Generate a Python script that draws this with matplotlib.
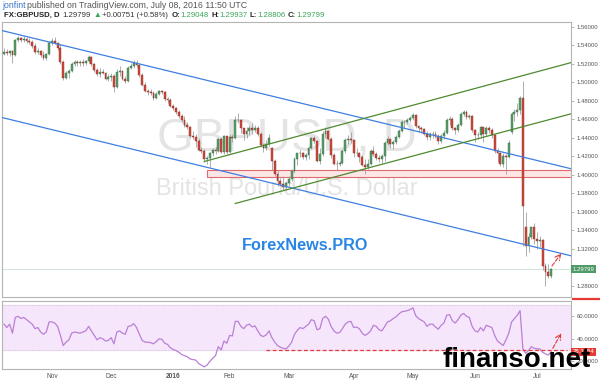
import matplotlib
matplotlib.use('Agg')
import matplotlib.pyplot as plt
from matplotlib.lines import Line2D
from matplotlib.patches import Rectangle
import matplotlib.transforms as mtransforms
import numpy as np
import pandas as pd

plt.rcParams['font.family'] = ['Liberation Sans', 'DejaVu Sans']

# daily bars, FX calendar (no bar on Christmas / New Year)
HOLIDAYS = ['2015-12-25', '2016-01-01']
DATES = pd.bdate_range('2015-10-08', '2016-07-08').drop(pd.to_datetime(HOLIDAYS))

OPEN = [
    1.5300, 1.5325, 1.5315, 1.5335, 1.5290, 1.5460, 1.5475, 1.5455, 1.5470, 1.5450,
    1.5440, 1.5390, 1.5325, 1.5340, 1.5290, 1.5265, 1.5300, 1.5425, 1.5450, 1.5425,
    1.5375, 1.5215, 1.5045, 1.5100, 1.5120, 1.5195, 1.5215, 1.5205, 1.5215, 1.5205,
    1.5225, 1.5275, 1.5195, 1.5130, 1.5085, 1.5110, 1.5100, 1.5040, 1.5060, 1.5070,
    1.4950, 1.5110, 1.5125, 1.5035, 1.5010, 1.5155, 1.5180, 1.5210, 1.5190, 1.5080,
    1.4975, 1.4905, 1.4895, 1.4885, 1.4830, 1.4870, 1.4905, 1.4895, 1.4815, 1.4805,
    1.4745, 1.4720, 1.4680, 1.4630, 1.4595, 1.4540, 1.4515, 1.4420, 1.4410, 1.4365,
    1.4265, 1.4255, 1.4165, 1.4180, 1.4230, 1.4265, 1.4260, 1.4385, 1.4245, 1.4415,
    1.4245, 1.4410, 1.4400, 1.4590, 1.4595, 1.4500, 1.4445, 1.4475, 1.4510, 1.4485,
    1.4505, 1.4440, 1.4320, 1.4290, 1.4330, 1.4285, 1.4145, 1.4010, 1.3935, 1.3905,
    1.3870, 1.3915, 1.3950, 1.4035, 1.4170, 1.4230, 1.4240, 1.4190, 1.4210, 1.4290,
    1.4395, 1.4360, 1.4150, 1.4220, 1.4445, 1.4470, 1.4385, 1.4210, 1.4120, 1.4115,
    1.4130, 1.4260, 1.4375, 1.4385, 1.4370, 1.4230, 1.4235, 1.4190, 1.4110, 1.4080,
    1.4120, 1.4260, 1.4225, 1.4185, 1.4165, 1.4200, 1.4345, 1.4385, 1.4330, 1.4350,
    1.4405, 1.4470, 1.4565, 1.4575, 1.4595, 1.4610, 1.4650, 1.4525, 1.4510, 1.4495,
    1.4445, 1.4410, 1.4435, 1.4440, 1.4420, 1.4365, 1.4420, 1.4450, 1.4590, 1.4600,
    1.4500, 1.4485, 1.4540, 1.4655, 1.4680, 1.4625, 1.4640, 1.4485, 1.4425, 1.4430,
    1.4515, 1.4440, 1.4505, 1.4485, 1.4430, 1.4260, 1.4240, 1.4120, 1.4200, 1.4195,
    1.4460, 1.4660, 1.4680, 1.4700, 1.4830, 1.3430, 1.3225, 1.3330, 1.3430, 1.3310,
    1.3280, 1.3290, 1.3015, 1.2950, 1.29048,
]
HIGH = [
    1.5365, 1.5360, 1.5350, 1.5345, 1.5470, 1.5505, 1.5490, 1.5495, 1.5490, 1.5480,
    1.5460, 1.5420, 1.5370, 1.5350, 1.5335, 1.5320, 1.5450, 1.5480, 1.5490, 1.5440,
    1.5410, 1.5240, 1.5120, 1.5140, 1.5215, 1.5235, 1.5245, 1.5235, 1.5250, 1.5240,
    1.5290, 1.5280, 1.5205, 1.5150, 1.5150, 1.5145, 1.5115, 1.5085, 1.5095, 1.5090,
    1.5140, 1.5170, 1.5135, 1.5065, 1.5170, 1.5210, 1.5240, 1.5235, 1.5200, 1.5100,
    1.5000, 1.4925, 1.4930, 1.4900, 1.4890, 1.4920, 1.4920, 1.4905, 1.4840, 1.4830,
    1.4760, 1.4730, 1.4700, 1.4660, 1.4630, 1.4570, 1.4530, 1.4470, 1.4435, 1.4400,
    1.4300, 1.4275, 1.4205, 1.4245, 1.4290, 1.4295, 1.4400, 1.4410, 1.4430, 1.4420,
    1.4435, 1.4445, 1.4640, 1.4665, 1.4605, 1.4510, 1.4520, 1.4535, 1.4555, 1.4535,
    1.4525, 1.4465, 1.4340, 1.4370, 1.4435, 1.4300, 1.4165, 1.4050, 1.3960, 1.3985,
    1.3930, 1.3990, 1.4060, 1.4190, 1.4240, 1.4270, 1.4250, 1.4235, 1.4310, 1.4410,
    1.4415, 1.4370, 1.4290, 1.4470, 1.4515, 1.4480, 1.4410, 1.4230, 1.4160, 1.4150,
    1.4280, 1.4400, 1.4425, 1.4460, 1.4385, 1.4290, 1.4250, 1.4210, 1.4165, 1.4165,
    1.4280, 1.4315, 1.4245, 1.4215, 1.4220, 1.4360, 1.4420, 1.4390, 1.4380, 1.4430,
    1.4490, 1.4590, 1.4590, 1.4615, 1.4640, 1.4670, 1.4660, 1.4540, 1.4530, 1.4505,
    1.4470, 1.4460, 1.4475, 1.4470, 1.4440, 1.4440, 1.4480, 1.4610, 1.4635, 1.4620,
    1.4520, 1.4555, 1.4680, 1.4700, 1.4695, 1.4655, 1.4650, 1.4495, 1.4460, 1.4525,
    1.4520, 1.4530, 1.4530, 1.4500, 1.4440, 1.4290, 1.4250, 1.4230, 1.4220, 1.4370,
    1.4680, 1.4710, 1.4770, 1.4850, 1.5015, 1.3600, 1.3370, 1.3440, 1.3480, 1.3380,
    1.3340, 1.3300, 1.3050, 1.3035, 1.29937,
]
LOW = [
    1.5290, 1.5290, 1.5285, 1.5210, 1.5280, 1.5440, 1.5430, 1.5440, 1.5420, 1.5410,
    1.5370, 1.5300, 1.5300, 1.5270, 1.5235, 1.5240, 1.5290, 1.5400, 1.5410, 1.5350,
    1.5200, 1.5020, 1.5030, 1.5050, 1.5110, 1.5180, 1.5180, 1.5170, 1.5180, 1.5190,
    1.5210, 1.5180, 1.5110, 1.5070, 1.5060, 1.5090, 1.5020, 1.5015, 1.5010, 1.4895,
    1.4940, 1.5070, 1.5020, 1.4990, 1.5000, 1.5140, 1.5150, 1.5160, 1.5060, 1.4960,
    1.4890, 1.4860, 1.4860, 1.4810, 1.4815, 1.4860, 1.4870, 1.4800, 1.4780, 1.4730,
    1.4700, 1.4660, 1.4610, 1.4565, 1.4520, 1.4490, 1.4400, 1.4390, 1.4300, 1.4255,
    1.4235, 1.4140, 1.4120, 1.4080, 1.4200, 1.4225, 1.4245, 1.4230, 1.4220, 1.4225,
    1.4230, 1.4350, 1.4385, 1.4560, 1.4455, 1.4380, 1.4395, 1.4430, 1.4440, 1.4460,
    1.4420, 1.4300, 1.4245, 1.4270, 1.4310, 1.4055, 1.3990, 1.3880, 1.3880, 1.3835,
    1.3835, 1.3880, 1.3930, 1.4020, 1.4110, 1.4190, 1.4165, 1.4160, 1.4170, 1.4275,
    1.4340, 1.4140, 1.4120, 1.4200, 1.4400, 1.4370, 1.4180, 1.4100, 1.4055, 1.4090,
    1.4120, 1.4235, 1.4330, 1.4340, 1.4195, 1.4200, 1.4140, 1.4090, 1.4005, 1.4060,
    1.4110, 1.4200, 1.4160, 1.4140, 1.4130, 1.4150, 1.4320, 1.4285, 1.4275, 1.4330,
    1.4395, 1.4460, 1.4510, 1.4550, 1.4575, 1.4590, 1.4500, 1.4460, 1.4455, 1.4430,
    1.4380, 1.4370, 1.4400, 1.4395, 1.4335, 1.4345, 1.4390, 1.4435, 1.4540, 1.4480,
    1.4445, 1.4460, 1.4525, 1.4630, 1.4600, 1.4600, 1.4460, 1.4350, 1.4385, 1.4400,
    1.4355, 1.4420, 1.4450, 1.4400, 1.4240, 1.4135, 1.4090, 1.4080, 1.4010, 1.4180,
    1.4440, 1.4585, 1.4630, 1.4660, 1.3230, 1.3120, 1.3160, 1.3300, 1.3250, 1.3200,
    1.3220, 1.2975, 1.2800, 1.2880, 1.28806,
]
CLOSE = [
    1.5325, 1.5315, 1.5335, 1.5290, 1.5460, 1.5475, 1.5455, 1.5470, 1.5450, 1.5440,
    1.5390, 1.5325, 1.5340, 1.5290, 1.5265, 1.5300, 1.5425, 1.5450, 1.5425, 1.5375,
    1.5215, 1.5045, 1.5100, 1.5120, 1.5195, 1.5215, 1.5205, 1.5215, 1.5205, 1.5225,
    1.5275, 1.5195, 1.5130, 1.5085, 1.5110, 1.5100, 1.5040, 1.5060, 1.5070, 1.4950,
    1.5110, 1.5125, 1.5035, 1.5010, 1.5155, 1.5180, 1.5210, 1.5190, 1.5080, 1.4975,
    1.4905, 1.4895, 1.4885, 1.4830, 1.4870, 1.4905, 1.4895, 1.4815, 1.4805, 1.4745,
    1.4720, 1.4680, 1.4630, 1.4595, 1.4540, 1.4515, 1.4420, 1.4410, 1.4365, 1.4265,
    1.4255, 1.4165, 1.4180, 1.4230, 1.4265, 1.4260, 1.4385, 1.4245, 1.4415, 1.4245,
    1.4410, 1.4400, 1.4590, 1.4595, 1.4500, 1.4445, 1.4475, 1.4510, 1.4485, 1.4505,
    1.4440, 1.4320, 1.4290, 1.4330, 1.4400, 1.4145, 1.4010, 1.3935, 1.3905, 1.3870,
    1.3915, 1.3950, 1.4035, 1.4170, 1.4230, 1.4240, 1.4190, 1.4210, 1.4290, 1.4395,
    1.4360, 1.4150, 1.4220, 1.4445, 1.4470, 1.4385, 1.4210, 1.4120, 1.4115, 1.4130,
    1.4260, 1.4375, 1.4385, 1.4370, 1.4230, 1.4235, 1.4190, 1.4110, 1.4080, 1.4120,
    1.4260, 1.4225, 1.4185, 1.4165, 1.4200, 1.4345, 1.4385, 1.4330, 1.4350, 1.4405,
    1.4470, 1.4565, 1.4575, 1.4595, 1.4610, 1.4650, 1.4525, 1.4510, 1.4495, 1.4445,
    1.4410, 1.4435, 1.4440, 1.4420, 1.4365, 1.4420, 1.4450, 1.4590, 1.4600, 1.4500,
    1.4485, 1.4540, 1.4655, 1.4680, 1.4625, 1.4640, 1.4485, 1.4425, 1.4430, 1.4515,
    1.4440, 1.4505, 1.4485, 1.4430, 1.4260, 1.4240, 1.4120, 1.4200, 1.4195, 1.4345,
    1.4660, 1.4680, 1.4700, 1.4830, 1.3665, 1.3225, 1.3330, 1.3430, 1.3310, 1.3280,
    1.3290, 1.3015, 1.2950, 1.2905, 1.29799,
]
RSI = [
    53, 50, 53, 45, 59, 60, 58, 59, 57, 55,
    53, 49, 50, 46, 44, 46, 55, 55, 54, 51,
    43, 34, 37, 39, 45, 46, 45.5, 45, 46, 47,
    51, 47, 43, 39, 41, 40, 38, 38.5, 41, 35.5,
    46, 47, 45, 44, 51, 51.5, 53.5, 50, 44, 38.5,
    37, 37, 36.5, 35.5, 37.5, 40, 39.5, 36, 35, 32,
    30.5, 29.5, 28, 26, 25, 24, 22, 21.5, 21, 18,
    16.5, 15, 16.5, 20, 22.5, 25, 33, 30, 38, 36,
    43, 42.5, 55.5, 55.5, 51, 49, 52, 53, 50.5, 51.5,
    47, 43, 42, 43.5, 47, 41, 37, 34, 32.5, 31.5,
    31, 33.5, 37, 44, 47.5, 50, 49, 51, 53, 57,
    56, 48, 49, 58, 60, 57.5, 51, 47, 45, 45.5,
    49, 53, 55, 55.5, 50, 50.5, 49, 45, 43, 44.5,
    47, 52, 51, 48, 47, 51, 55, 56, 58, 59.5,
    62, 64, 64.5, 65, 66, 67.5, 60.5, 58, 56.5, 55,
    51, 53, 53, 50.5, 48.5, 52, 54, 61, 61.5, 56,
    54, 57, 61, 62.5, 60, 59, 51, 47, 46, 50,
    47, 52, 51, 50, 43, 38, 36, 34, 39, 45,
    55, 58, 61, 65, 31, 27, 29.5, 33, 31.5, 31,
    31, 28, 26.5, 25.5, 28.5,
]
LAST_PRICE = '1.29799'
LAST_RSI = '28.3054'

# 1.30000 sits under the last-price tag, so it has no label
PRICE_TICKS = np.arange(1.28, 1.5601, 0.02)
HIDDEN_PRICE_TICK = 1.30
RSI_TICKS = [20, 40, 60]

# drawings on the chart: (bar index, price)
BLUE_UPPER = [(0, 1.5553), (194, 1.4117)]
BLUE_LOWER = [(0, 1.4613), (194, 1.3176)]
GREEN_UPPER = [(71, 1.4143), (194, 1.5154)]
GREEN_LOWER = [(82, 1.3689), (194, 1.4601)]
ZONE_START, ZONE_LO, ZONE_HI = 72, 1.3975, 1.4050
ARROW_PRICE = [(194.3, 1.3013), (197.6, 1.3150)]
ARROW_RSI = [(194.6, 31.5), (197.6, 45.0)]
RSI_SUPPORT_START, RSI_SUPPORT = 93, 30

UP, UP_EDGE = '#5a9e6c', '#2f6a3e'
DOWN, DOWN_EDGE = '#d04a3c', '#8a2a20'
WICK = '#a0a0a0'
AXIS_TXT = '#555555'
SPINE = '#b4b4b4'

W, H = 600, 383
fig = plt.figure(figsize=(W / 100, H / 100), dpi=100)


def box(x0, y0, x1, y1):
    return [x0 / W, 1 - y1 / H, (x1 - x0) / W, (y1 - y0) / H]


def text_runs(x_px, y_px, runs, size):
    renderer = fig.canvas.get_renderer()
    x = x_px
    for s, color, weight, gap in runs:
        t = fig.text(x / W, 1 - y_px / H, s, color=color, fontsize=size,
                     fontweight=weight, va='center', ha='left')
        x += t.get_window_extent(renderer).width + gap


ax = fig.add_axes(box(2, 22, 571, 297))
rsi_ax = fig.add_axes(box(2, 301, 571, 369))

x = np.arange(len(DATES))
o, hi, lo, c = (np.array(v) for v in (OPEN, HIGH, LOW, CLOSE))
up = c >= o
XMIN, XMAX = -0.71, 201.06

# candles
ax.vlines(x, lo, hi, color=WICK, lw=0.6, zorder=3)
ax.bar(x, np.maximum(np.abs(c - o), 0.0004), bottom=np.minimum(o, c), width=0.66,
       color=np.where(up, UP, DOWN), edgecolor=np.where(up, UP_EDGE, DOWN_EDGE),
       linewidth=0.3, zorder=4)

# watermark
ax.text(0.5, 0.575, 'GBPUSD, D', transform=ax.transAxes, ha='center', va='center',
        fontsize=34, color='#e4e4e4', zorder=0)
ax.text(0.5, 0.393, 'British Pound/U.S. Dollar', transform=ax.transAxes, ha='center',
        va='center', fontsize=17, color='#e4e4e4', zorder=0)

# trend channels
for pts in (BLUE_UPPER, BLUE_LOWER):
    ax.axline(pts[0], pts[1], color='#3f7fe0', lw=0.9, zorder=5)
for (x0, y0), (x1, y1) in (GREEN_UPPER, GREEN_LOWER):
    slope = (y1 - y0) / (x1 - x0)
    ax.plot([x0, XMAX], [y0, y0 + slope * (XMAX - x0)], color='#4e8a2f', lw=0.9, zorder=5)

ax.add_patch(Rectangle((ZONE_START, ZONE_LO), XMAX - ZONE_START + 5, ZONE_HI - ZONE_LO,
                       facecolor='#fce6e6', edgecolor='#e26a6a', lw=0.8, zorder=2))
ax.axhline(float(LAST_PRICE), color='#d3e6d8', lw=0.8, zorder=1)
ax.annotate('', xy=ARROW_PRICE[1], xytext=ARROW_PRICE[0],
            arrowprops=dict(arrowstyle='->', color='#e53935', lw=0.8, ls='--',
                            shrinkA=0, shrinkB=0), zorder=6)

ax.set_xlim(XMIN, XMAX)
ax.set_ylim(1.2678, 1.5651)
ax.set_xticks([])
ax.yaxis.tick_right()
ax.set_yticks(PRICE_TICKS)
ax.set_yticklabels(['' if abs(v - HIDDEN_PRICE_TICK) < 1e-6 else f'{v:.5f}'
                    for v in PRICE_TICKS])
ax.tick_params(axis='y', length=2, width=0.5, color='#999999', pad=2,
               labelsize=4.3, labelcolor=AXIS_TXT)

trans = mtransforms.blended_transform_factory(ax.transAxes, ax.transData)
ax.text(1.003, float(LAST_PRICE), LAST_PRICE, transform=trans, ha='left', va='center',
        fontsize=4.3, color='white', clip_on=False, zorder=10,
        bbox=dict(boxstyle='square,pad=0.25', fc='#4f9a66', ec='none'))

# RSI pane
rsi_ax.axhspan(30, 70, color='#f5e6fb', zorder=0)
rsi_ax.axhline(70, color='#b9a9c4', lw=0.5, ls=':', zorder=1)
rsi_ax.axhline(30, color='#b9a9c4', lw=0.5, ls=':', zorder=1)
rsi_ax.plot(x, RSI, color='#bb7fd6', lw=0.9, zorder=3)
rsi_ax.plot([RSI_SUPPORT_START, XMAX - 1.5], [RSI_SUPPORT, RSI_SUPPORT], color='#e53935',
            lw=0.9, ls=(0, (3, 2)), zorder=4)
rsi_ax.annotate('', xy=ARROW_RSI[1], xytext=ARROW_RSI[0],
                arrowprops=dict(arrowstyle='->', color='#e53935', lw=0.8, ls='--',
                                shrinkA=0, shrinkB=0), zorder=6)
rsi_ax.set_xlim(XMIN, XMAX)
rsi_ax.set_ylim(13.1, 73.6)
rsi_ax.yaxis.tick_right()
rsi_ax.set_yticks(RSI_TICKS)
rsi_ax.set_yticklabels([f'{v:.4f}' for v in RSI_TICKS])
rsi_ax.tick_params(axis='y', length=2, width=0.5, color='#999999', pad=2,
                   labelsize=4.3, labelcolor=AXIS_TXT)
trans_r = mtransforms.blended_transform_factory(rsi_ax.transAxes, rsi_ax.transData)
rsi_ax.text(1.003, RSI[-1], LAST_RSI, transform=trans_r, ha='left', va='center',
            fontsize=4.3, color='white', clip_on=False, zorder=10,
            bbox=dict(boxstyle='square,pad=0.25', fc='#e53935', ec='none'))

month_starts = [i for i in range(1, len(DATES)) if DATES[i].month != DATES[i - 1].month]
month_labels = ['2016' if DATES[i].month == 1 else DATES[i].strftime('%b') for i in month_starts]
rsi_ax.set_xticks(month_starts)
rsi_ax.set_xticklabels(month_labels)
rsi_ax.tick_params(axis='x', length=0, pad=3, labelsize=4.8, labelcolor=AXIS_TXT)
for lab in rsi_ax.get_xticklabels():
    if lab.get_text() == '2016':
        lab.set_fontweight('bold')

for a in (ax, rsi_ax):
    for sp in a.spines.values():
        sp.set_color(SPINE)
        sp.set_linewidth(0.8)

fig.add_artist(Line2D([573 / W, 1.0], [1 - 299 / H] * 2, color='#e53935', lw=1.6,
                      transform=fig.transFigure))

# header
text_runs(2, 6, [('jonfint', '#3b78c8', 'normal', 2),
                 ('published on TradingView.com, July 08, 2016 11:50 UTC', '#555555', 'normal', 0)],
          6.3)
GREEN = '#3aa657'
text_runs(4, 15.5, [('FX:GBPUSD, D', '#222222', 'bold', 2.5),
                    ('1.29799', '#333333', 'normal', 2.5),
                    ('\u25b2', GREEN, 'normal', 1.5),
                    ('+0.00751 (+0.58%)', '#333333', 'normal', 3.5),
                    ('O:', '#222222', 'bold', 0), ('1.29048', GREEN, 'normal', 2.5),
                    ('H:', '#222222', 'bold', 0), ('1.29937', GREEN, 'normal', 2.5),
                    ('L:', '#222222', 'bold', 0), ('1.28806', GREEN, 'normal', 2.5),
                    ('C:', '#222222', 'bold', 0), ('1.29799', GREEN, 'normal', 0)],
          5.55)

fig.text(305 / W, 1 - 245 / H, 'ForexNews.PRO', ha='center', va='center', fontsize=11.7,
         fontweight='bold', color='#2a86e6')
fig.text(517 / W, 1 - 367 / H, 'finanso.net', ha='center', va='baseline', fontsize=20,
         fontweight='bold', color='black', zorder=20)

fig.savefig('out.png', dpi=100, facecolor='white')
